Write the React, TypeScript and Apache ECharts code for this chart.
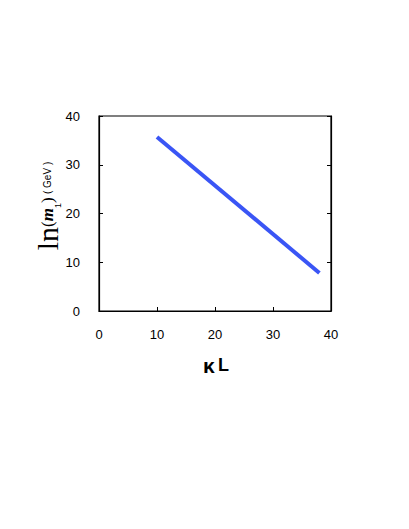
import React, { useEffect, useRef } from "react";
import * as echarts from "echarts";

const kappaL = [10, 38];
const lnM1 = [35.7, 7.8];
const xTicks = [0, 10, 20, 30, 40];
const yTicks = [0, 10, 20, 30, 40];

export default function App() {
  const ref = useRef<HTMLDivElement>(null);
  useEffect(() => {
    document.body.style.margin = "0";
    const chart = echarts.init(ref.current!, null, { renderer: "svg" });
    const font = "Liberation Sans, Arial, sans-serif";
    const tickLabel = { color: "#000", fontSize: 13, fontFamily: font };
    chart.setOption({
      animation: false,
      backgroundColor: "#fff",
      grid: { left: 99, right: 78, top: 116, bottom: 218, show: true, borderColor: "#000", borderWidth: 1.2, backgroundColor: "transparent" },
      xAxis: [
        {
          type: "value",
          min: xTicks[0],
          max: xTicks[xTicks.length - 1],
          interval: 10,
          axisLine: { show: true, onZero: false, lineStyle: { color: "#000", width: 1.2 } },
          axisTick: { show: true, inside: true, length: 4, lineStyle: { color: "#000" } },
          axisLabel: { ...tickLabel, margin: 17 },
          splitLine: { show: false },
        },
      ],
      yAxis: [
        {
          type: "value",
          min: yTicks[0],
          max: yTicks[yTicks.length - 1],
          interval: 10,
          axisLine: { show: true, onZero: false, lineStyle: { color: "#000", width: 1.2 } },
          axisTick: { show: true, inside: true, length: 4, lineStyle: { color: "#000" } },
          axisLabel: { ...tickLabel, margin: 19 },
          splitLine: { show: false },
        },
        {
          type: "value",
          position: "right",
          min: yTicks[0],
          max: yTicks[yTicks.length - 1],
          interval: 10,
          axisLine: { show: true, onZero: false, lineStyle: { color: "#000", width: 1.2 } },
          axisTick: { show: true, inside: true, length: 4, lineStyle: { color: "#000" } },
          axisLabel: { show: false },
          splitLine: { show: false },
        },
      ],
      series: [
        {
          type: "line",
          data: kappaL.map((x, i) => [x, lnM1[i]]),
          showSymbol: false,
          lineStyle: { color: "#3a55f5", width: 4 },
          xAxisIndex: 0,
          yAxisIndex: 0,
        },
        {
          type: "line",
          data: kappaL.map((x, i) => [x, lnM1[i]]),
          showSymbol: false,
          lineStyle: { opacity: 0 },
          silent: true,
          xAxisIndex: 0,
          yAxisIndex: 1,
        },
      ],
      graphic: [
        {
          type: "text",
          x: 216,
          y: 365,
          style: {
            text: "{k|κ} {l|L}",
            align: "center",
            verticalAlign: "middle",
            rich: {
              k: { fontSize: 21, fontWeight: "bold", fontFamily: font, fill: "#000" },
              l: { fontSize: 18, fontWeight: "bold", fontFamily: font, fill: "#000" },
            },
          },
        },
        {
          type: "text",
          x: 47,
          y: 206,
          rotation: Math.PI / 2,
          style: {
            text: "{ln|ln}{p|(}{m|m}{s|1}{p|)} {g|( GeV )}",
            align: "center",
            verticalAlign: "middle",
            rich: {
              ln: { fontSize: 30, fontFamily: "Liberation Serif, Times New Roman, serif", fill: "#000" },
              p: { fontSize: 17, fontFamily: "Liberation Serif, serif", fill: "#000" },
              m: { fontSize: 17, fontStyle: "italic", fontWeight: "bold", fontFamily: "Liberation Serif, serif", fill: "#000" },
              s: { fontSize: 9, fontFamily: font, fill: "#000", verticalAlign: "bottom", padding: [6, 0, 0, 0] },
              g: { fontSize: 10, fontFamily: font, fill: "#000" },
            },
          },
        },
      ],
    });
    return () => chart.dispose();
  }, []);
  return <div ref={ref} style={{ width: 409, height: 529 }} />;
}
